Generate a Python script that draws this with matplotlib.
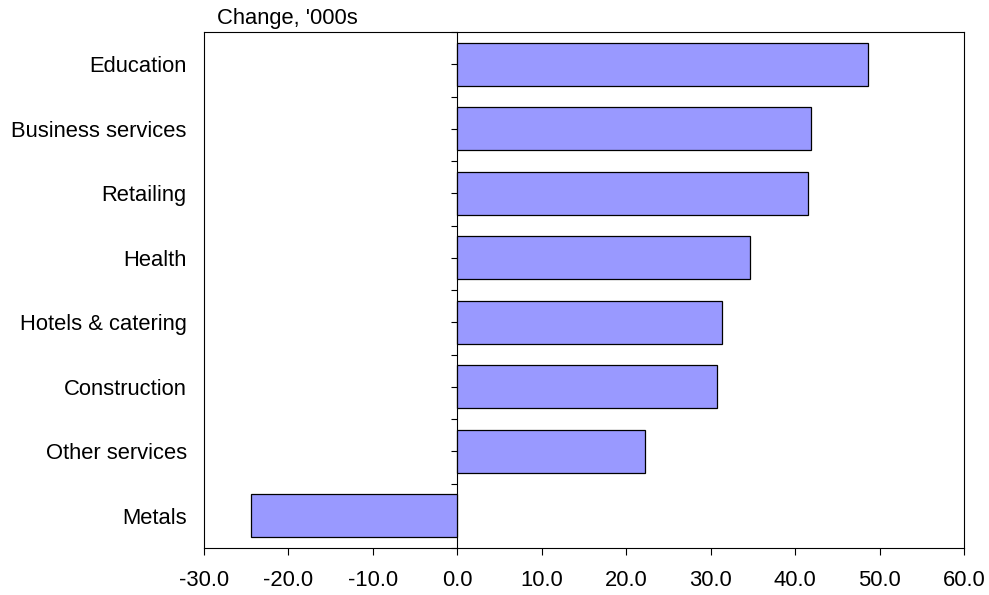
import matplotlib

matplotlib.use("Agg")

import matplotlib.pyplot as plt
import numpy as np

# Données (de bas en haut)
secteurs = [
    "Metals",
    "Other services",
    "Construction",
    "Hotels & catering",
    "Health",
    "Retailing",
    "Business services",
    "Education",
]
variations = [-24.4, 22.2, 30.8, 31.4, 34.7, 41.5, 41.9, 48.6]
ticks_x = [-30, -20, -10, 0, 10, 20, 30, 40, 50, 60]


def graphique_variations(noms: list[str], valeurs: list[float]) -> None:
    """Barres horizontales des variations d'emploi par secteur."""
    plt.rcParams["font.family"] = ["Liberation Sans", "DejaVu Sans"]
    plt.rcParams["font.size"] = 15.8

    fig = plt.figure(figsize=(9.89, 5.95), dpi=100)
    ax = fig.add_axes([204 / 989, 1 - 548 / 595, 760 / 989, 516 / 595])

    pos = np.arange(len(noms))
    ax.barh(pos, valeurs, height=0.667, color="#9999ff",
            edgecolor="black", linewidth=0.9, zorder=3)

    ax.set_xlim(-30, 60)
    ax.set_ylim(-0.5, len(noms) - 0.5)
    ax.set_xticks(ticks_x)
    ax.set_xticklabels([f"{v:.1f}" for v in ticks_x])
    ax.set_yticks(pos)
    ax.set_yticklabels(noms)

    ax.tick_params(axis="x", direction="out", length=5, width=0.8, pad=10.5)
    ax.tick_params(axis="y", length=0, pad=12.5)
    for sp in ax.spines.values():
        sp.set_linewidth(0.8)
        sp.set_color("black")

    # axe vertical au zéro avec graduations
    zero = ax.secondary_yaxis(0, transform=ax.transData)
    zero.set_yticks(np.arange(-0.5, len(noms), 0.5))
    zero.tick_params(direction="out", length=4.3, width=0.8, labelleft=False)
    zero.spines["left"].set_linewidth(0.8)

    fig.text(217 / 989, 1 - 24 / 595, "Change, '000s", fontsize=15.8,
             ha="left", va="baseline")

    fig.savefig("out.png", dpi=100)


if __name__ == "__main__":
    graphique_variations(secteurs, variations)
